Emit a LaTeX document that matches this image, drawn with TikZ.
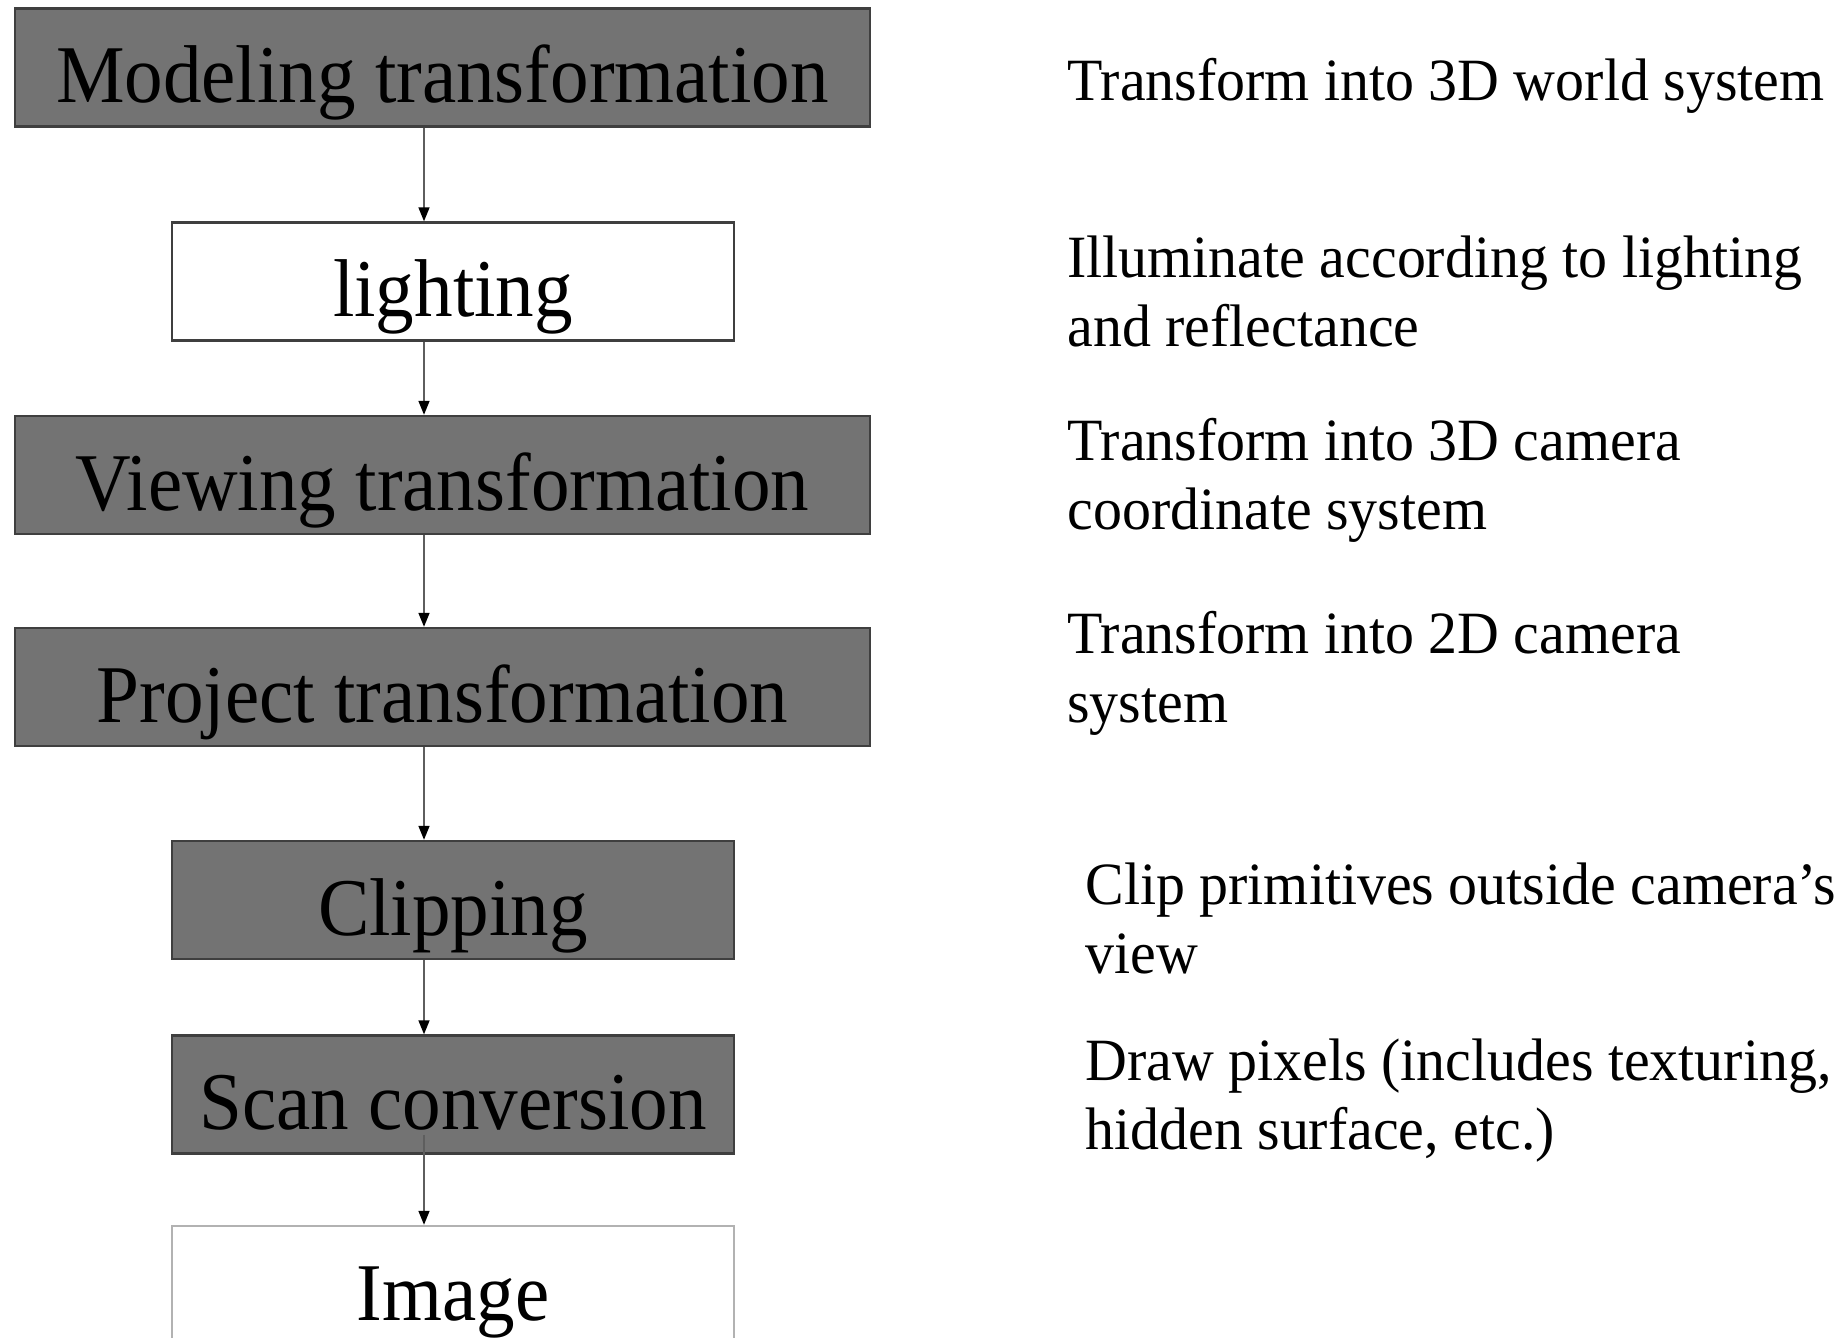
\documentclass[tikz,border=0pt]{standalone}
\usepackage{fontspec}
\setmainfont{Liberation Serif}
\newfontfamily\stagefont{Liberation Serif}[FakeStretch=0.94]
\newfontfamily\notefont{Liberation Serif}[FakeStretch=0.965]
\usetikzlibrary{arrows.meta}
\definecolor{boxgray}{HTML}{737373}
\definecolor{boxline}{HTML}{3F3F3F}
\definecolor{arrowgray}{HTML}{5E5E5E}
\tikzset{
  stage/.style={draw=boxline, line width=1.2pt, inner sep=0pt,
    text height=38pt, text depth=3pt,
    font=\stagefont\fontsize{41}{41}\selectfont},
  darkstage/.style={stage, fill=boxgray, minimum width=427.5pt, minimum height=59pt},
  darkshort/.style={stage, fill=boxgray, minimum width=281pt, minimum height=59pt},
  whitestage/.style={stage, fill=white, minimum width=281pt, minimum height=59pt},
  note/.style={align=left, anchor=base west, inner sep=0pt,
    font=\notefont\fontsize{30}{34.5}\selectfont},
  flow/.style={draw=arrowgray, line width=0.8pt,
    -{Triangle[length=7pt,width=5.5pt,color=black]}}
}
\begin{document}
\begin{tikzpicture}[x=0.5pt,y=-0.5pt]
\useasboundingbox (0,0) rectangle (1848,1338);
\clip (0,0) rectangle (1848,1338);
\fill[white] (0,0) rectangle (1848,1338);
\node[darkstage]  (b1) at (442.5,67.5)  {Modeling transformation};
\node[whitestage] (b2) at (453,281.5)   {lighting};
\node[darkstage]  (b3) at (442.5,475)   {Viewing transformation};
\node[darkstage]  (b4) at (442.5,687)   {Project transformation};
\node[darkshort]  (b5) at (453,900)     {Clipping};
\node[darkshort]  (b6) at (453,1094.5)  {Scan conversion};
\node[whitestage, draw=gray!60] (b7) at (453,1285) {Image};
\coordinate (ax) at (424,0);
\draw[flow] (b1.south -| ax) -- (b2.north -| ax);
\draw[flow] (b2.south -| ax) -- (b3.north -| ax);
\draw[flow] (b3.south -| ax) -- (b4.north -| ax);
\draw[flow] (b4.south -| ax) -- (b5.north -| ax);
\draw[flow] (b5.south -| ax) -- (b6.north -| ax);
\draw[flow] ([yshift=10pt]b6.south -| ax) -- (b7.north -| ax);
\node[note] (t1) at (1067,101)  {Transform into 3D world system};
\node[note] (t2) at (1067,346)  {Illuminate according to lighting\\and reflectance};
\node[note] (t3) at (1067,529)  {Transform into 3D camera\\coordinate system};
\node[note] (t4) at (1067,722)  {Transform into 2D camera\\system};
\node[note] (t5) at (1085,973)  {Clip primitives outside camera’s\\view};
\node[note] (t6) at (1085,1149) {Draw pixels (includes texturing,\\hidden surface, etc.)};
\end{tikzpicture}
\end{document}
